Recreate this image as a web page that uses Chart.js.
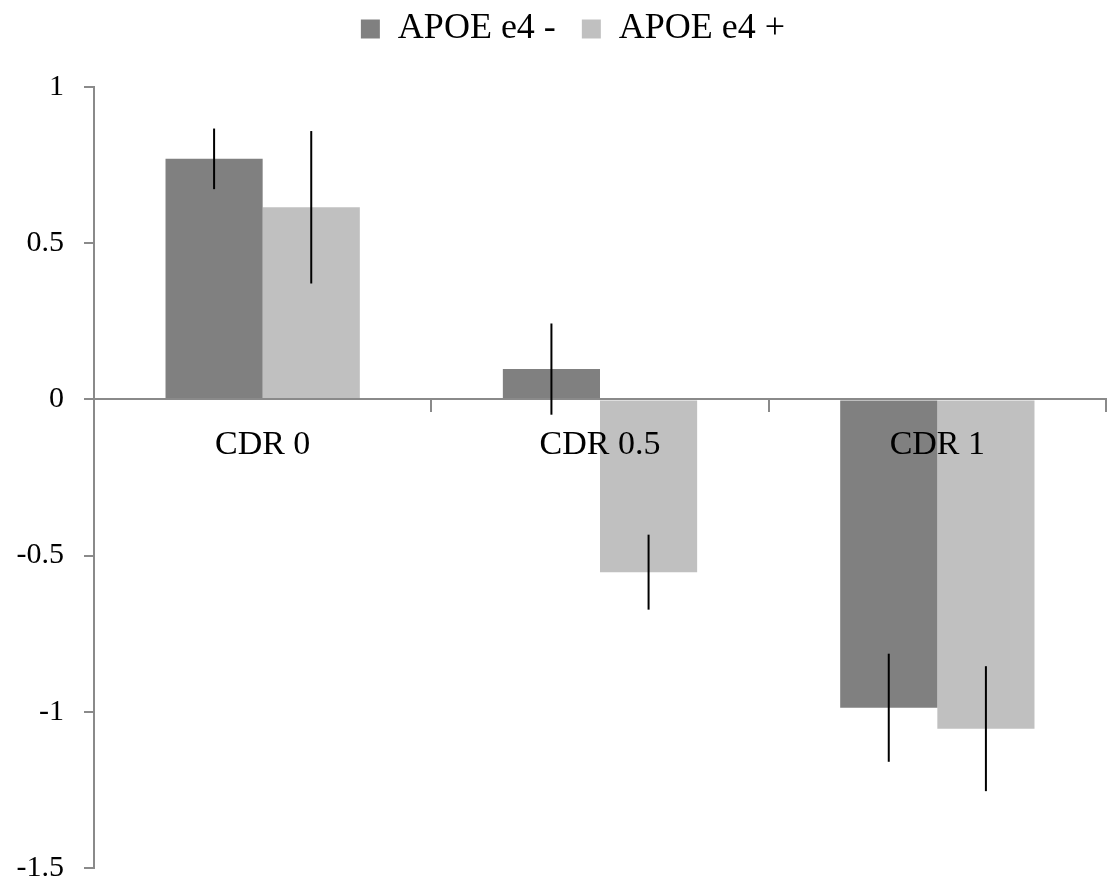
<!DOCTYPE html>
<html>
<head>
<meta charset="utf-8">
<script src="https://cdn.jsdelivr.net/npm/chart.js@4/dist/chart.umd.min.js"></script>
<style>
  html, body { margin: 0; padding: 0; background: #fff; }
  #chart { display: block; }
</style>
</head>
<body>
<canvas id="chart" width="1108" height="886"></canvas>
<script>
// DATA
const categories = ['CDR 0', 'CDR 0.5', 'CDR 1'];
const seriesNames = ['APOE e4 -', 'APOE e4 +'];
const apoeNeg = [0.77, 0.097, -0.987];
const apoePos = [0.615, -0.553, -1.054];
const apoeNegErr = [0.097, 0.146, 0.173];
const apoePosErr = [0.244, 0.12, 0.2];

const axisGray = '#8a8a8a';

Chart.defaults.font.family = "'Liberation Serif', 'DejaVu Serif', serif";
Chart.defaults.color = '#000';

// error bars, drawn on top of everything
const errorBars = {
  id: 'errorBars',
  afterDraw(chart) {
    const ctx = chart.ctx;
    const y = chart.scales.y;
    ctx.save();
    ctx.strokeStyle = '#000';
    ctx.lineWidth = 2;
    chart.data.datasets.forEach((ds, i) => {
      const meta = chart.getDatasetMeta(i);
      meta.data.forEach((bar, j) => {
        const v = ds.data[j];
        const e = ds.errors[j];
        ctx.beginPath();
        ctx.moveTo(bar.x, y.getPixelForValue(v + e));
        ctx.lineTo(bar.x, y.getPixelForValue(v - e));
        ctx.stroke();
      });
    });
    ctx.restore();
  }
};

// fix legend block height so plot starts at the right place,
// then nudge the legend row (wide item gap needs big padding)
const legendPlace = {
  id: 'legendPlace',
  beforeInit(chart) {
    const fit = chart.legend.fit;
    chart.legend.fit = function () {
      fit.bind(chart.legend)();
      this.height = 87;
    };
  },
  afterLayout(chart) {
    const lg = chart.legend;
    lg.top = -15;
    lg.left += 20;
    lg.right += 20;
  }
};

new Chart(document.getElementById('chart'), {
  type: 'bar',
  data: {
    labels: categories,
    datasets: [
      { label: seriesNames[0], data: apoeNeg, errors: apoeNegErr, backgroundColor: '#808080' },
      { label: seriesNames[1], data: apoePos, errors: apoePosErr, backgroundColor: '#c0c0c0' }
    ]
  },
  options: {
    responsive: false,
    animation: false,
    categoryPercentage: 0.576,
    barPercentage: 1,
    layout: { padding: { left: 0, right: 2, top: 0, bottom: 18 } },
    plugins: {
      legend: {
        position: 'top',
        labels: { font: { size: 36 }, boxWidth: 19, boxHeight: 19, padding: 26, color: '#000' }
      },
      tooltip: { enabled: false }
    },
    scales: {
      x: {
        position: { y: 0 },
        afterFit(scale) { scale.height = 0; },  // axis sits at zero, takes no room
        grid: { drawOnChartArea: false, offset: true, tickLength: 12, lineWidth: 2, color: axisGray },
        border: { display: true, color: axisGray, width: 2, z: 1 },
        ticks: { font: { size: 34 }, color: '#000', padding: 13, z: 1 }
      },
      y: {
        min: -1.5,
        max: 1,
        afterFit(scale) {
          scale.width = 94;
          scale.paddingTop = 0;
          scale.paddingBottom = 0;
        },
        grid: { drawOnChartArea: false, tickLength: 10, lineWidth: 2, color: axisGray },
        border: { color: axisGray, width: 2 },
        ticks: { stepSize: 0.5, font: { size: 30 }, color: '#000', padding: 20, callback: v => String(v) }
      }
    }
  },
  plugins: [errorBars, legendPlace]
});
</script>
</body>
</html>
